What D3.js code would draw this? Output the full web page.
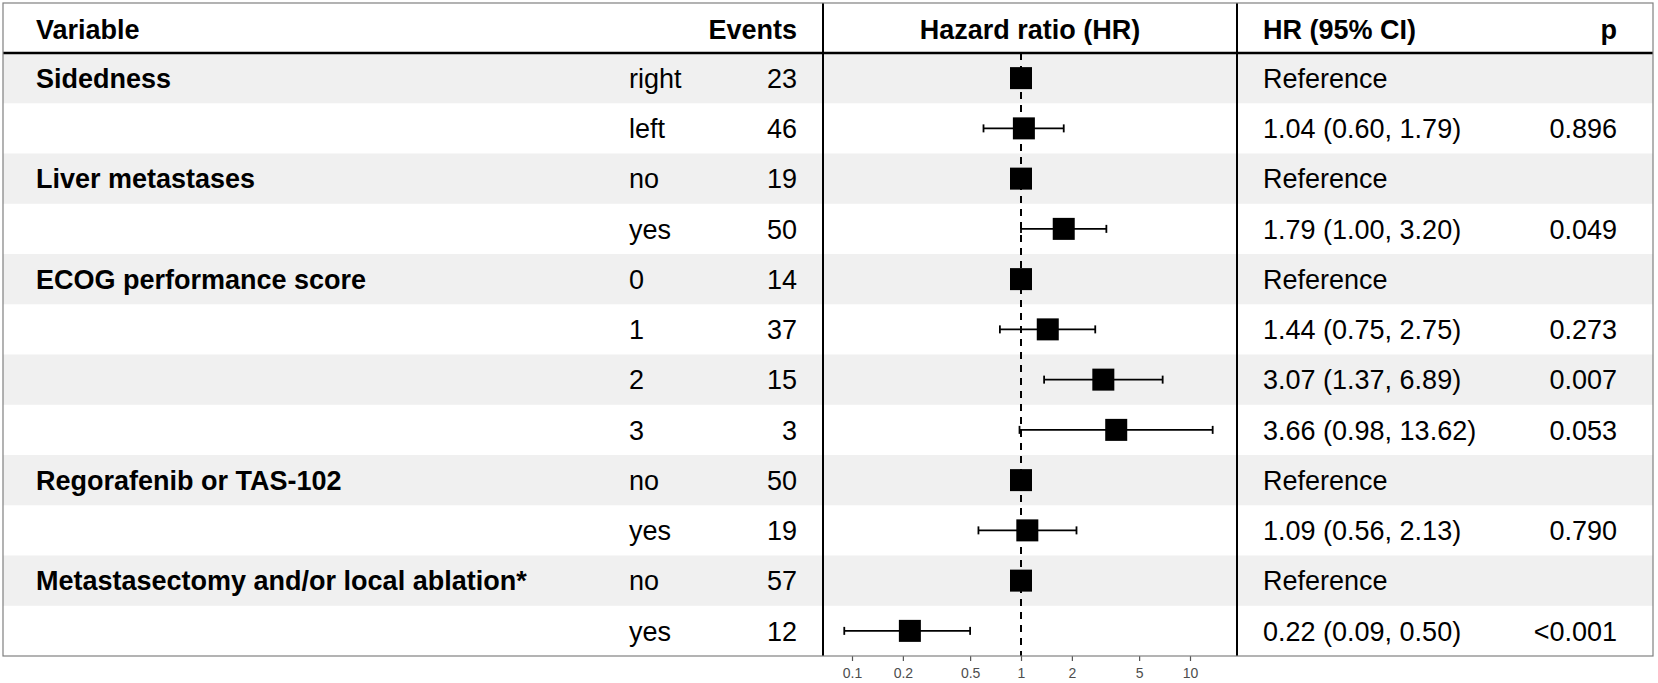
<!DOCTYPE html>
<html>
<head>
<meta charset="utf-8">
<script src="https://cdn.jsdelivr.net/npm/d3@7"></script>
<style>
  body { margin: 0; background: #fff; }
  text { font-family: "Liberation Sans", Arial, Helvetica, sans-serif; }
</style>
</head>
<body>
<script>
// table content, one entry per row
var variables = ["Sidedness", "", "Liver metastases", "", "ECOG performance score", "", "", "",
                 "Regorafenib or TAS-102", "", "Metastasectomy and/or local ablation*", ""];
var levels = ["right", "left", "no", "yes", "0", "1", "2", "3", "no", "yes", "no", "yes"];
var events = [23, 46, 19, 50, 14, 37, 15, 3, 50, 19, 57, 12];
var hr     = [1, 1.04, 1, 1.79, 1, 1.44, 3.07, 3.66, 1, 1.09, 1, 0.22];
var ciLow  = [null, 0.60, null, 1.00, null, 0.75, 1.37, 0.98, null, 0.56, null, 0.09];
var ciHigh = [null, 1.79, null, 3.20, null, 2.75, 6.89, 13.62, null, 2.13, null, 0.50];
var hrText = ["Reference", "1.04 (0.60, 1.79)", "Reference", "1.79 (1.00, 3.20)", "Reference",
              "1.44 (0.75, 2.75)", "3.07 (1.37, 6.89)", "3.66 (0.98, 13.62)", "Reference",
              "1.09 (0.56, 2.13)", "Reference", "0.22 (0.09, 0.50)"];
var pText  = ["", "0.896", "", "0.049", "", "0.273", "0.007", "0.053", "", "0.790", "", "<0.001"];
var axisTicks = [0.1, 0.2, 0.5, 1, 2, 5, 10];
var headers = ["Variable", "Events", "Hazard ratio (HR)", "HR (95% CI)", "p"];

var width = 1658, height = 683;
// note: "top" is a reserved window property, so use other names
var tLeft = 3, tRight = 1653, tTop = 3, headBottom = 53, tBottom = 656;
var col = {name: 36, level: 629, events: 797, line1: 823, line2: 1237, hr: 1263, p: 1617};
var fontSize = 27;

var rows = variables.map(function(v, i) {
  return {i: i, variable: v, level: levels[i], events: events[i], hr: hr[i],
          lo: ciLow[i], hi: ciHigh[i], hrText: hrText[i], p: pText[i]};
});

var svg = d3.select("body").append("svg")
  .attr("width", width)
  .attr("height", height);

var yScale = d3.scaleBand()
  .domain(d3.range(rows.length))
  .range([headBottom, tBottom]);

var xScale = d3.scaleLog()
  .domain([0.1, 10])
  .range([852, 1190]);

// striped rows
svg.append("g").selectAll("rect")
  .data(rows.filter(function(d) { return d.i % 2 === 0; }))
  .enter().append("rect")
    .attr("x", tLeft)
    .attr("y", function(d) { return yScale(d.i); })
    .attr("width", tRight - tLeft)
    .attr("height", yScale.bandwidth())
    .attr("fill", "#f0f0f0");

// reference line at HR = 1
svg.append("line")
  .attr("x1", xScale(1)).attr("x2", xScale(1))
  .attr("y1", headBottom).attr("y2", tBottom)
  .attr("stroke", "#000")
  .attr("stroke-width", 2)
  .attr("stroke-dasharray", "7,6");

// confidence intervals
var ci = svg.append("g")
  .attr("stroke", "#000")
  .attr("stroke-width", 1.8)
  .selectAll("g")
  .data(rows.filter(function(d) { return d.lo !== null; }))
  .enter().append("g")
    .attr("transform", function(d) { return "translate(0," + (yScale(d.i) + yScale.bandwidth() / 2) + ")"; });

ci.append("line")
  .attr("x1", function(d) { return xScale(d.lo); })
  .attr("x2", function(d) { return xScale(d.hi); });
ci.append("line")
  .attr("x1", function(d) { return xScale(d.lo); })
  .attr("x2", function(d) { return xScale(d.lo); })
  .attr("y1", -4).attr("y2", 4);
ci.append("line")
  .attr("x1", function(d) { return xScale(d.hi); })
  .attr("x2", function(d) { return xScale(d.hi); })
  .attr("y1", -4).attr("y2", 4);

// point estimates
var box = 22;
svg.append("g").selectAll("rect")
  .data(rows)
  .enter().append("rect")
    .attr("x", function(d) { return xScale(d.hr) - box / 2; })
    .attr("y", function(d) { return yScale(d.i) + yScale.bandwidth() / 2 - box / 2; })
    .attr("width", box)
    .attr("height", box)
    .attr("fill", "#000");

// axis along bottom edge
var xAxis = d3.axisBottom(xScale)
  .tickValues(axisTicks)
  .tickFormat(function(d) { return String(d); })
  .tickSize(5)
  .tickPadding(7);

var gx = svg.append("g")
  .attr("transform", "translate(0," + tBottom + ")")
  .call(xAxis);
gx.select(".domain").remove();
gx.selectAll(".tick line").attr("stroke", "#555").attr("stroke-width", 1.2);
gx.selectAll(".tick text")
  .attr("fill", "#4d4d4d")
  .style("font-size", "14px")
  .style("font-family", "'Liberation Sans', Arial, sans-serif");

// row texts
function cellText(sel, x, anchor, weight, fn) {
  sel.append("g").selectAll("text")
    .data(rows)
    .enter().append("text")
      .attr("x", x)
      .attr("y", function(d) { return yScale(d.i) + yScale.bandwidth() / 2; })
      .attr("dy", "0.36em")
      .attr("text-anchor", anchor)
      .attr("font-weight", weight)
      .style("font-size", fontSize + "px")
      .attr("fill", "#000")
      .text(fn);
}
cellText(svg, col.name, "start", "bold", function(d) { return d.variable; });
cellText(svg, col.level, "start", "normal", function(d) { return d.level; });
cellText(svg, col.events, "end", "normal", function(d) { return d.events; });
cellText(svg, col.hr, "start", "normal", function(d) { return d.hrText; });
cellText(svg, col.p, "end", "normal", function(d) { return d.p; });

// header
var headX = [col.name, col.events, (col.line1 + col.line2) / 2, col.hr, col.p];
var headAnchor = ["start", "end", "middle", "start", "end"];
svg.append("g").selectAll("text")
  .data(headers)
  .enter().append("text")
    .attr("x", function(d, i) { return headX[i]; })
    .attr("y", (tTop + headBottom) / 2 + 1)
    .attr("dy", "0.36em")
    .attr("text-anchor", function(d, i) { return headAnchor[i]; })
    .attr("font-weight", "bold")
    .style("font-size", fontSize + "px")
    .attr("fill", "#000")
    .text(function(d) { return d; });

// lines and frame
svg.append("line")
  .attr("x1", tLeft).attr("x2", tRight)
  .attr("y1", headBottom).attr("y2", headBottom)
  .attr("stroke", "#000").attr("stroke-width", 2.5);

[col.line1, col.line2].forEach(function(x) {
  svg.append("line")
    .attr("x1", x).attr("x2", x)
    .attr("y1", tTop).attr("y2", tBottom)
    .attr("stroke", "#000").attr("stroke-width", 2);
});

svg.append("rect")
  .attr("x", tLeft).attr("y", tTop)
  .attr("width", tRight - tLeft).attr("height", tBottom - tTop)
  .attr("fill", "none")
  .attr("stroke", "#808080")
  .attr("stroke-width", 1.2);
</script>
</body>
</html>
